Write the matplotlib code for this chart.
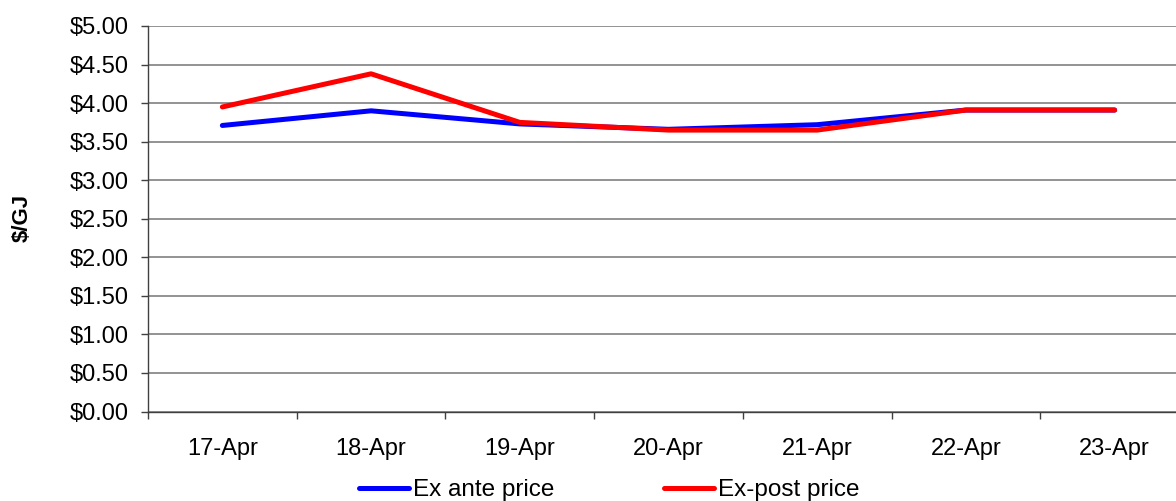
import matplotlib.pyplot as plt
from matplotlib.ticker import FixedLocator, FuncFormatter

plt.rcParams['font.family'] = ['Liberation Sans', 'DejaVu Sans']

dates = ["17-Apr", "18-Apr", "19-Apr", "20-Apr", "21-Apr", "22-Apr", "23-Apr"]
ex_ante = [3.71, 3.90, 3.73, 3.66, 3.72, 3.91, 3.91]
ex_post = [3.95, 4.38, 3.75, 3.65, 3.65, 3.91, 3.91]

fig = plt.figure(figsize=(11.76, 5.01), dpi=100)
# axes run slightly past the right edge of the figure
ax = fig.add_axes([148 / 1176, 89.5 / 501, 1041 / 1176, 385.5 / 501])

x = range(len(dates))
ax.plot(x, ex_ante, color="#0000ff", lw=3.6, solid_capstyle="round", label="Ex ante price", zorder=3)
ax.plot(x, ex_post, color="#ff0000", lw=3.6, solid_capstyle="round", label="Ex-post price", zorder=4)

ax.set_xlim(-0.5, len(dates) - 0.5)
ax.set_ylim(0, 5)
ax.set_yticks([i * 0.5 for i in range(11)])
ax.yaxis.set_major_formatter(FuncFormatter(lambda v, p: "${:.2f}".format(v)))
ax.yaxis.grid(True, color="#808080", lw=1.2)
ax.set_axisbelow(True)

# tick marks between categories, labels at category centres
ax.xaxis.set_major_locator(FixedLocator([i - 0.5 for i in range(len(dates) + 1)]))
ax.xaxis.set_major_formatter(FuncFormatter(lambda v, p: ""))
ax.xaxis.set_minor_locator(FixedLocator(list(x)))
ax.set_xticklabels(dates, minor=True)
ax.tick_params(axis="x", which="major", length=5, width=1, color="#404040")
ax.tick_params(axis="x", which="minor", length=0, pad=19, labelsize=17)
ax.tick_params(axis="y", length=5, width=1, color="#404040", pad=9, labelsize=17)

for side in ["top", "right"]:
    ax.spines[side].set_visible(False)
for side in ["left", "bottom"]:
    ax.spines[side].set_color("#404040")
    ax.spines[side].set_linewidth(1)

fig.text(22 / 1176, 1 - 218 / 501, "$/GJ", rotation=90, fontsize=16, fontweight="bold",
         ha="center", va="center")

fig.legend(loc="center", bbox_to_anchor=(0.518, 11 / 501), ncol=2, frameon=False,
           fontsize=17.5, handlelength=2.05, handletextpad=0.17, columnspacing=4.5)

fig.savefig("out.png", dpi=100)
